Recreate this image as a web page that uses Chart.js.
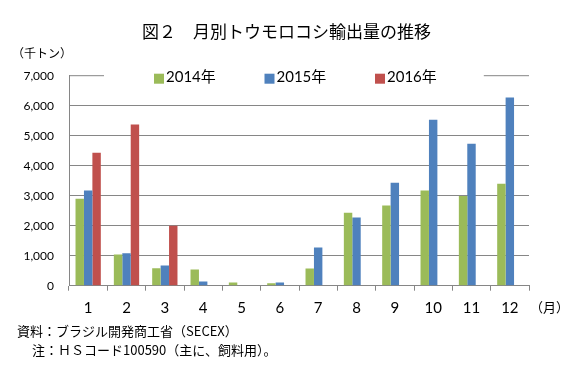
<!DOCTYPE html>
<html>
<head>
<meta charset="utf-8">
<script src="https://cdn.jsdelivr.net/npm/chart.js@4"></script>
<style>
  html, body { margin: 0; padding: 0; background: #fff; }
  #wrap { width: 573px; height: 375px; }
</style>
</head>
<body>
<div id="wrap"><canvas id="exportChart" width="573" height="375"></canvas></div>
<script>
// 月別トウモロコシ輸出量（千トン）
const months = ['1', '2', '3', '4', '5', '6', '7', '8', '9', '10', '11', '12'];
const seriesNames = ['2014年', '2015年', '2016年'];
const exports2014 = [2900, 1040, 580, 540, 110, 80, 570, 2430, 2670, 3170, 2990, 3400];
const exports2015 = [3170, 1080, 670, 140, 0, 110, 1270, 2270, 3430, 5530, 4730, 6270];
const exports2016 = [4430, 5370, 2000, null, null, null, null, null, null, null, null, null];
const yMax = 7000;
const yStep = 1000;

const colors = ['#9BBB59', '#4F81BD', '#C0504D'];
const gridColor = '#868686';
const jpFont = '"Noto Sans CJK JP", sans-serif';
const numFont = 'Lato, "Noto Sans CJK JP", sans-serif';

// 凡例・単位・注記を描く
const extras = {
    id: 'extras',
    afterDraw(chart) {
        const ctx = chart.ctx;
        const a = chart.chartArea;
        const yTop = chart.scales.y.getPixelForValue(yMax);
        ctx.save();

        // 単位
        ctx.fillStyle = '#000';
        ctx.font = '12px ' + jpFont;
        ctx.textAlign = 'left';
        ctx.textBaseline = 'middle';
        ctx.fillText('（千トン）', 12, 53);

        // 凡例
        const startX = a.left + 85;
        const stride = 110.5;
        ctx.font = '15px ' + numFont;
        ctx.textBaseline = 'alphabetic';
        let lastRight = startX;
        chart.data.datasets.forEach((ds, i) => {
            const x = startX + i * stride;
            ctx.fillStyle = ds.backgroundColor;
            ctx.fillRect(x, yTop - 2, 10, 10);
            ctx.fillStyle = '#000';
            ctx.fillText(ds.label, x + 12, yTop + 6);
            lastRight = x + 12 + ctx.measureText(ds.label).width;
        });

        // 上端の目盛線（凡例部分は空ける）
        ctx.strokeStyle = gridColor;
        ctx.lineWidth = 1;
        ctx.beginPath();
        ctx.moveTo(a.left, yTop);
        ctx.lineTo(startX - 50, yTop);
        ctx.moveTo(lastRight + 47, yTop);
        ctx.lineTo(a.right, yTop);
        ctx.stroke();

        // 横軸の単位
        ctx.fillStyle = '#000';
        ctx.font = '13px ' + jpFont;
        ctx.textBaseline = 'middle';
        ctx.fillText('（月）', a.right + 1, a.bottom + 21);

        // 注記
        ctx.fillText('資料：ブラジル開発商工省（SECEX）', 17, 331);
        ctx.fillText('注：ＨＳコード100590（主に、飼料用）。', 32, 350);

        ctx.restore();
    }
};

new Chart(document.getElementById('exportChart'), {
    type: 'bar',
    data: {
        labels: months,
        datasets: [
            { label: seriesNames[0], data: exports2014, backgroundColor: colors[0] },
            { label: seriesNames[1], data: exports2015, backgroundColor: colors[1] },
            { label: seriesNames[2], data: exports2016, backgroundColor: colors[2] }
        ]
    },
    options: {
        responsive: false,
        animation: false,
        devicePixelRatio: 1,
        categoryPercentage: 0.66,
        barPercentage: 1.0,
        layout: { padding: 0 },
        plugins: {
            legend: { display: false },
            tooltip: { enabled: false },
            title: {
                display: true,
                text: '図２　月別トウモロコシ輸出量の推移',
                color: '#000',
                font: { family: jpFont, size: 17, weight: 'normal', lineHeight: 1.2 },
                padding: { top: 21, bottom: 34.3 }
            }
        },
        scales: {
            x: {
                offset: true,
                grid: {
                    offset: true,
                    drawOnChartArea: false,
                    drawTicks: true,
                    tickLength: 5,
                    color: gridColor
                },
                border: { color: gridColor },
                ticks: {
                    color: '#000',
                    padding: 8,
                    font: { family: numFont, size: 15 },
                    maxRotation: 0
                },
                afterFit: s => { s.height = 89.3; }
            },
            y: {
                min: 0,
                max: yMax,
                grid: {
                    drawTicks: false,
                    color: ctx => (ctx.tick && ctx.tick.value === yMax) ? 'rgba(0,0,0,0)' : gridColor
                },
                border: { color: gridColor },
                ticks: {
                    stepSize: yStep,
                    padding: 15,
                    color: '#000',
                    font: { family: numFont, size: 12 },
                    callback: v => v.toLocaleString('en-US')
                },
                afterFit: s => { s.width = 69; }
            },
            // 右側の余白（（月）の表示用）
            yRight: {
                position: 'right',
                display: true,
                grid: { display: false, drawTicks: false },
                border: { display: false },
                ticks: { display: false },
                afterFit: s => { s.width = 44; }
            }
        }
    },
    plugins: [extras]
});
</script>
</body>
</html>
